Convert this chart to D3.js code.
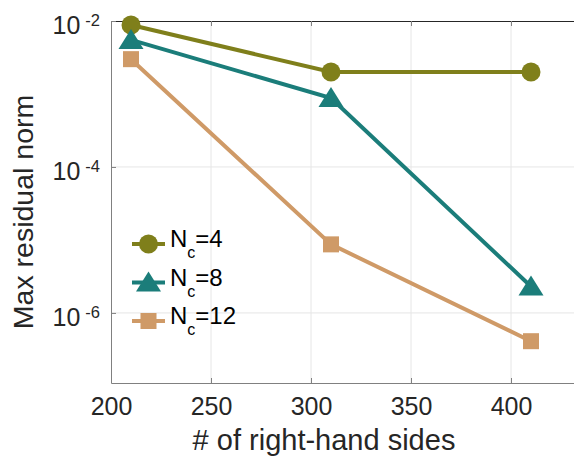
<!DOCTYPE html>
<html>
<head>
<meta charset="utf-8">
<script src="https://cdn.jsdelivr.net/npm/d3@7"></script>
<style>
  body { margin: 0; background: #fff; }
  svg { display: block; font-family: "Liberation Sans", Arial, sans-serif; }
</style>
</head>
<body>
<div id="chart"></div>
<script>
const rhs = [210, 310, 410]
const nc4 = [8.8e-3, 2.0e-3, 2.0e-3]
const nc8 = [5.5e-3, 8.8e-4, 2.3e-6]
const nc12 = [3.0e-3, 8.7e-6, 4.1e-7]
const seriesNames = ["4", "8", "12"]
const xTicks = [200, 250, 300, 350, 400]
const yTickExps = [-2, -4, -6]

const width = 574
const height = 461
const plotLeft = 111, plotTop = 21, plotBottom = 383

const svg = d3.select("#chart").append("svg")
    .attr("width", width)
    .attr("height", height)

const x = d3.scaleLinear().domain([200, 440]).range([plotLeft, 591])
const y = d3.scaleLog().domain([Math.pow(10, -6.96), 1e-2]).range([plotBottom, plotTop])

// grid
svg.append("g").selectAll("line")
    .data(xTicks.slice(1))
    .join("line")
    .attr("x1", d => x(d)).attr("x2", d => x(d))
    .attr("y1", plotTop).attr("y2", plotBottom)
    .attr("stroke", "#e6e6e6")
svg.append("g").selectAll("line")
    .data(yTickExps.slice(1))
    .join("line")
    .attr("x1", plotLeft).attr("x2", width)
    .attr("y1", d => y(Math.pow(10, d))).attr("y2", d => y(Math.pow(10, d)))
    .attr("stroke", "#e6e6e6")

// axes
const xAxis = svg.append("g")
    .attr("transform", `translate(0,${plotBottom})`)
    .call(d3.axisBottom(x).tickValues(xTicks).tickSizeInner(-5).tickSizeOuter(0).tickPadding(14))
xAxis.select(".domain").attr("stroke", "#808080")
xAxis.selectAll(".tick line").attr("stroke", "#808080")
xAxis.selectAll("text").attr("font-size", 25).attr("fill", "#262626")
    .attr("font-family", "Liberation Sans, Arial, sans-serif")

const xTop = svg.append("g")
    .attr("transform", `translate(0,${plotTop})`)
    .call(d3.axisTop(x).tickValues(xTicks).tickSizeInner(-5).tickSizeOuter(0).tickFormat(""))
xTop.select(".domain").attr("stroke", "#262626")
xTop.selectAll(".tick line").attr("stroke", "#808080")

const yAxis = svg.append("g")
    .attr("transform", `translate(${plotLeft},0)`)
    .call(d3.axisLeft(y).tickValues(yTickExps.map(e => Math.pow(10, e))).tickSizeInner(-5).tickSizeOuter(0).tickFormat(""))
yAxis.select(".domain").attr("stroke", "#808080")
yAxis.selectAll(".tick line").attr("stroke", "#808080")

// y tick labels as 10^n
const yLab = svg.append("g").selectAll("text")
    .data(yTickExps)
    .join("text")
    .attr("x", 100)
    .attr("y", d => y(Math.pow(10, d)) + 13)
    .attr("text-anchor", "end")
    .attr("font-size", 25)
    .attr("fill", "#262626")
yLab.append("tspan").text("10")
yLab.append("tspan").attr("dx", 5).attr("dy", -8).attr("font-size", 16.5).text(d => "-" + Math.abs(d))

// lines and markers
const colors = ["#7f7f1b", "#1b7d7a", "#cf9a67"]
const allSeries = [nc4, nc8, nc12]
const line = d3.line().x((d, i) => x(rhs[i])).y(d => y(d))

allSeries.forEach((s, k) => {
    svg.append("path")
        .attr("d", line(s))
        .attr("fill", "none")
        .attr("stroke", colors[k])
        .attr("stroke-width", 4)
})

function marker(g, k, cx, cy) {
    if (k === 0) {
        g.append("circle").attr("cx", cx).attr("cy", cy).attr("r", 9.5).attr("fill", colors[k])
    } else if (k === 1) {
        g.append("path")
            .attr("d", `M${cx},${cy - 11} L${cx + 12.5},${cy + 9} L${cx - 12.5},${cy + 9} Z`)
            .attr("fill", colors[k])
    } else {
        g.append("rect").attr("x", cx - 8).attr("y", cy - 8).attr("width", 16).attr("height", 16)
            .attr("fill", colors[k])
    }
}

const markG = svg.append("g")
allSeries.forEach((s, k) => {
    s.forEach((v, i) => marker(markG, k, x(rhs[i]), y(v)))
})

// legend
const legend = svg.append("g")
seriesNames.forEach((name, k) => {
    const ly = 244 + k * 38.5
    legend.append("line")
        .attr("x1", 132).attr("x2", 165)
        .attr("y1", ly).attr("y2", ly)
        .attr("stroke", colors[k]).attr("stroke-width", 4)
    marker(legend, k, 148.5, ly)
    const t = legend.append("text")
        .attr("x", 170).attr("y", ly + 3)
        .attr("font-size", 24)
        .attr("fill", "#000")
    t.append("tspan").text("N")
    t.append("tspan").attr("dy", 11).attr("font-size", 16).text("c")
    t.append("tspan").attr("dy", -11).text("=" + name)
})

// axis titles
svg.append("text")
    .attr("x", 324).attr("y", 450)
    .attr("text-anchor", "middle")
    .attr("font-size", 29)
    .attr("fill", "#262626")
    .text("# of right-hand sides")

svg.append("text")
    .attr("transform", "translate(33,212) rotate(-90)")
    .attr("text-anchor", "middle")
    .attr("font-size", 28.5)
    .attr("fill", "#262626")
    .text("Max residual norm")
</script>
</body>
</html>
